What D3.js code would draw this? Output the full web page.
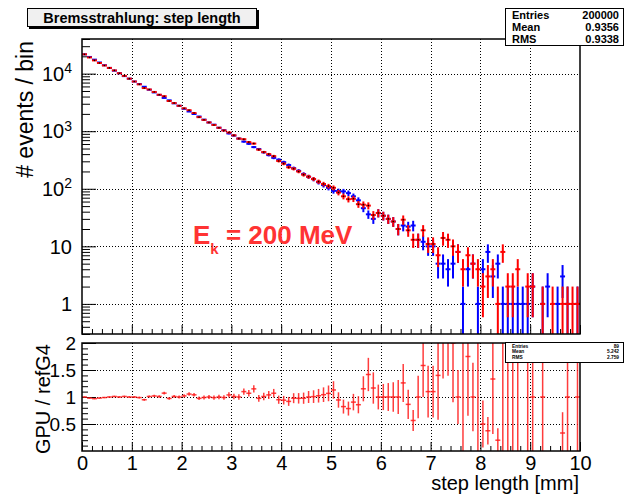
<!DOCTYPE html>
<html>
<head>
<meta charset="utf-8">
<script src="https://cdn.jsdelivr.net/npm/d3@7"></script>
<style>
  body { margin: 0; background: #fff; }
  text { font-family: "Liberation Sans", Arial, sans-serif; }
</style>
</head>
<body>
<script>
// histogram contents, 100 bins of 0.1 mm from 0 to 10 mm
const binWidth = 0.1;
// blue: refG4
const refG4 = [
  21650, 19500, 17520, 15640, 14010, 12580, 11270, 10160, 9070, 8190,
  7300, 6590, 5920, 5260, 4720, 4270, 3790, 3440, 3050, 2770,
  2450, 2200, 1990, 1800, 1590, 1420, 1300, 1150, 1040, 915,
  840, 745, 660, 605, 530, 490, 430, 385, 345, 320,
  290, 258, 228, 205, 180, 162, 147, 130, 116, 104,
  92, 91, 90, 84, 74, 63, 46, 36, 30, 38,
  34, 30, 27, 20, 23, 22, 23, 13, 12, 10,
  10, 5, 5, 4, 5, 8, 1, 4, 5, 1,
  4, 8, 3, 5, 1, 1, 1, 1, 1, 1,
  2, 0, 1, 2, 0, 1, 3, 1, 0, 1
];
// red: GPU
const gpu = [
  21650, 19110, 16990, 15330, 13870, 12580, 11380, 10160, 9160, 8190,
  7300, 6520, 5620, 5310, 4810, 4310, 4060, 3350, 3080, 2770,
  2500, 2320, 2070, 1755, 1575, 1420, 1285, 1150, 1030, 950,
  848, 745, 726, 647, 610, 478, 434, 400, 369, 304,
  273, 237, 223, 200, 176, 162, 148, 133, 121, 111,
  104, 86, 74, 66, 67, 54, 53, 51, 35, 38,
  34, 30, 27, 20, 29, 19, 13, 13, 19, 11,
  11, 7, 14, 13, 10, 8, 4, 7, 5, 4,
  2, 3, 4, 1, 8, 2, 2, 4, 0, 2,
  2, 0, 1, 0, 1, 0, 1, 1, 1, 1
];
const xTicks = [0, 1, 2, 3, 4, 5, 6, 7, 8, 9, 10];
const yDecades = [1, 10, 100, 1000, 10000];
const yDecadeLabels = [["1", ""], ["10", ""], ["10", "2"], ["10", "3"], ["10", "4"]];
const ratioTicks = [0.5, 1, 1.5, 2];
const mainStats = [["Entries", "200000"], ["Mean", "0.9356"], ["RMS", "0.9338"]];
const ratioStats = [["Entries", "89"], ["Mean", "5.242"], ["RMS", "2.759"]];
const title = "Bremsstrahlung: step length";

const W = 624, H = 498;
const L = 82, R = 580, T1 = 39, B1 = 334, T2 = 343, B2 = 451;

const svg = d3.select("body").append("svg").attr("width", W).attr("height", H);
svg.append("rect").attr("width", W).attr("height", H).attr("fill", "#fff");

const x = d3.scaleLinear().domain([0, 10]).range([L, R]);
const yTop = d3.scaleLog().domain([0.3, 4e4]).range([B1, T1]);
const yBot = d3.scaleLinear().domain([0, 2]).range([B2, T2]);

const defs = svg.append("defs");
defs.append("clipPath").attr("id", "clipTop").append("rect")
  .attr("x", L).attr("y", T1).attr("width", R - L).attr("height", B1 - T1);
defs.append("clipPath").attr("id", "clipBot").append("rect")
  .attr("x", L).attr("y", T2).attr("width", R - L).attr("height", B2 - T2);

// grids
const gridStyle = s => s.attr("stroke", "#000").attr("stroke-width", 1)
  .attr("stroke-dasharray", "1,2").attr("fill", "none");
const innerX = xTicks.filter(d => d > 0 && d < 10);
[[T1, B1], [T2, B2]].forEach(([t, b]) => {
  svg.append("g").selectAll("line").data(innerX).join("line")
    .attr("x1", d => Math.round(x(d)) + 0.5).attr("x2", d => Math.round(x(d)) + 0.5)
    .attr("y1", t).attr("y2", b).call(gridStyle);
});
svg.append("g").selectAll("line").data(yDecades).join("line")
  .attr("x1", L).attr("x2", R)
  .attr("y1", d => Math.round(yTop(d)) + 0.5).attr("y2", d => Math.round(yTop(d)) + 0.5)
  .call(gridStyle);
svg.append("g").selectAll("line").data(ratioTicks.filter(d => d < 2)).join("line")
  .attr("x1", L).attr("x2", R)
  .attr("y1", d => Math.round(yBot(d)) + 0.5).attr("y2", d => Math.round(yBot(d)) + 0.5)
  .call(gridStyle);

// axes (ticks inside the frame)
const noDomain = g => g.select(".domain").remove();
const minorX = d3.range(0, 50).map(i => i * 0.2).filter((d, i) => i % 5 !== 0);
const minorLog = [];
[0.1, 1, 10, 100, 1000, 10000].forEach(dec => {
  for (let k = 2; k <= 9; k++) {
    const v = k * dec;
    if (v >= 0.3 && v <= 4e4) minorLog.push(v);
  }
});
const minorRatio = d3.range(1, 20).map(i => i * 0.1).filter((d, i) => (i + 1) % 5 !== 0);

[B1, B2].forEach(b => {
  svg.append("g").attr("transform", `translate(0,${b})`)
    .call(d3.axisBottom(x).tickValues(xTicks).tickSize(-9).tickFormat("")).call(noDomain);
  svg.append("g").attr("transform", `translate(0,${b})`)
    .call(d3.axisBottom(x).tickValues(minorX).tickSize(-5).tickFormat("")).call(noDomain);
});
svg.append("g").attr("transform", `translate(${L},0)`)
  .call(d3.axisLeft(yTop).tickValues(yDecades).tickSize(-14).tickFormat("")).call(noDomain);
svg.append("g").attr("transform", `translate(${L},0)`)
  .call(d3.axisLeft(yTop).tickValues(minorLog).tickSize(-8).tickFormat("")).call(noDomain);
svg.append("g").attr("transform", `translate(${L},0)`)
  .call(d3.axisLeft(yBot).tickValues(ratioTicks).tickSize(-14).tickFormat("")).call(noDomain);
svg.append("g").attr("transform", `translate(${L},0)`)
  .call(d3.axisLeft(yBot).tickValues(minorRatio).tickSize(-6).tickFormat("")).call(noDomain);

// tick labels
const xLab = svg.append("g").attr("transform", `translate(0,${B2})`)
  .call(d3.axisBottom(x).tickValues(xTicks).tickSize(0).tickPadding(5).tickFormat(d3.format("d")))
  .call(noDomain);
xLab.selectAll("text").attr("font-size", 20).attr("fill", "#000")
  .attr("font-family", "Liberation Sans, Arial, sans-serif");

const yLab = svg.append("g").attr("transform", `translate(${L},0)`)
  .call(d3.axisLeft(yBot).tickValues(ratioTicks).tickSize(0).tickPadding(6).tickFormat(d => String(d)))
  .call(noDomain);
yLab.selectAll("text").attr("font-size", 19).attr("fill", "#000")
  .attr("font-family", "Liberation Sans, Arial, sans-serif");

const logLab = svg.append("g").selectAll("text").data(yDecades).join("text")
  .attr("x", L - 10).attr("y", d => yTop(d)).attr("dy", "0.36em")
  .attr("text-anchor", "end").attr("font-size", 20);
logLab.append("tspan").text((d, i) => yDecadeLabels[i][0]);
logLab.append("tspan").attr("font-size", 14).attr("dy", "-0.55em")
  .text((d, i) => yDecadeLabels[i][1]);

// axis titles
svg.append("text").attr("transform", `translate(33,${T1 + 2}) rotate(-90)`)
  .attr("text-anchor", "end").attr("font-size", 23).text("# events / bin");
svg.append("text").attr("transform", `translate(50,${T2 + 1}) rotate(-90)`)
  .attr("text-anchor", "end").attr("font-size", 20).text("GPU / refG4");
svg.append("text").attr("x", R - 1).attr("y", 490)
  .attr("text-anchor", "end").attr("font-size", 20).text("step length [mm]");

// histograms with error bars
function drawHist(counts, color, dots) {
  const bins = counts.map((n, i) => ({ lo: i * binWidth, hi: (i + 1) * binWidth, n }))
    .filter(d => d.n > 0);
  const g = svg.append("g").attr("clip-path", "url(#clipTop)")
    .attr("stroke", color).attr("stroke-width", 2);
  g.selectAll(".h").data(bins).join("line").attr("class", "h")
    .attr("x1", d => x(d.lo)).attr("x2", d => x(d.hi))
    .attr("y1", d => yTop(d.n)).attr("y2", d => yTop(d.n));
  g.selectAll(".v").data(bins).join("line").attr("class", "v")
    .attr("x1", d => x((d.lo + d.hi) / 2)).attr("x2", d => x((d.lo + d.hi) / 2))
    .attr("y1", d => {
      const low = d.n - Math.sqrt(d.n);
      return low > 0.3 ? yTop(low) : B1 + 2;
    })
    .attr("y2", d => yTop(d.n + Math.sqrt(d.n)));
  if (dots) {
    svg.append("g").attr("clip-path", "url(#clipTop)").selectAll("circle")
      .data(bins.filter(d => d.n >= 10)).join("circle")
      .attr("cx", d => x((d.lo + d.hi) / 2)).attr("cy", d => yTop(d.n))
      .attr("r", 0.8).attr("fill", "#000");
  }
}
drawHist(refG4, "#0000ff", false);
drawHist(gpu, "#ff0000", true);

// ratio GPU / refG4
const ratio = gpu.map((gv, i) => {
  const rv = refG4[i];
  if (!gv || !rv) return null;
  const v = gv / rv;
  return { lo: i * binWidth, hi: (i + 1) * binWidth, v, e: v * Math.sqrt(1 / gv + 1 / rv) };
}).filter(d => d);
const rg = svg.append("g").attr("clip-path", "url(#clipBot)")
  .attr("stroke", "#ff1a1a").attr("stroke-width", 1.5).attr("stroke-opacity", 0.85);
rg.selectAll(".h").data(ratio).join("line").attr("class", "h")
  .attr("x1", d => x(d.lo)).attr("x2", d => x(d.hi))
  .attr("y1", d => yBot(d.v)).attr("y2", d => yBot(d.v));
rg.selectAll(".v").data(ratio).join("line").attr("class", "v")
  .attr("x1", d => x((d.lo + d.hi) / 2)).attr("x2", d => x((d.lo + d.hi) / 2))
  .attr("y1", d => yBot(Math.max(d.v - d.e, -0.1)))
  .attr("y2", d => yBot(Math.min(d.v + d.e, 2.1)));

// frames
[[T1, B1], [T2, B2]].forEach(([t, b]) => {
  svg.append("rect").attr("x", L).attr("y", t).attr("width", R - L).attr("height", b - t)
    .attr("fill", "none").attr("stroke", "#000").attr("stroke-width", 1.5);
});

// energy label
const ek = svg.append("text").attr("x", 193).attr("y", 244)
  .attr("font-size", 26).attr("font-weight", "bold").attr("fill", "#ff3333");
ek.append("tspan").text("E");
ek.append("tspan").attr("font-size", 15).attr("dy", 10).text("k");
ek.append("tspan").attr("dy", -10).text(" = 200 MeV");

// title box
svg.append("rect").attr("x", 29).attr("y", 10).attr("width", 230).attr("height", 19).attr("fill", "#000");
svg.append("rect").attr("x", 27.5).attr("y", 8.5).attr("width", 229).attr("height", 18)
  .attr("fill", "#f0f0f0").attr("stroke", "#000").attr("stroke-width", 1);
svg.append("text").attr("x", 142).attr("y", 22.5).attr("text-anchor", "middle")
  .attr("font-size", 14.5).attr("font-weight", "bold").text(title);

// stats boxes
function statsBox(y0, h, rows, fs, step, base) {
  svg.append("rect").attr("x", 505.5).attr("y", y0 + 0.5).attr("width", 118).attr("height", h)
    .attr("fill", "#fff").attr("stroke", "#000").attr("stroke-width", 1);
  const g = svg.append("g").attr("font-size", fs).attr("font-weight", "bold");
  g.selectAll(".k").data(rows).join("text").attr("class", "k")
    .attr("x", 512).attr("y", (d, i) => base + i * step).text(d => d[0]);
  g.selectAll(".v").data(rows).join("text").attr("class", "v")
    .attr("x", 619).attr("y", (d, i) => base + i * step).attr("text-anchor", "end").text(d => d[1]);
}
statsBox(8, 37, mainStats, 11, 12.4, 18.5);
statsBox(342, 20, ratioStats, 4.8, 5.7, 347.5);
</script>
</body>
</html>
